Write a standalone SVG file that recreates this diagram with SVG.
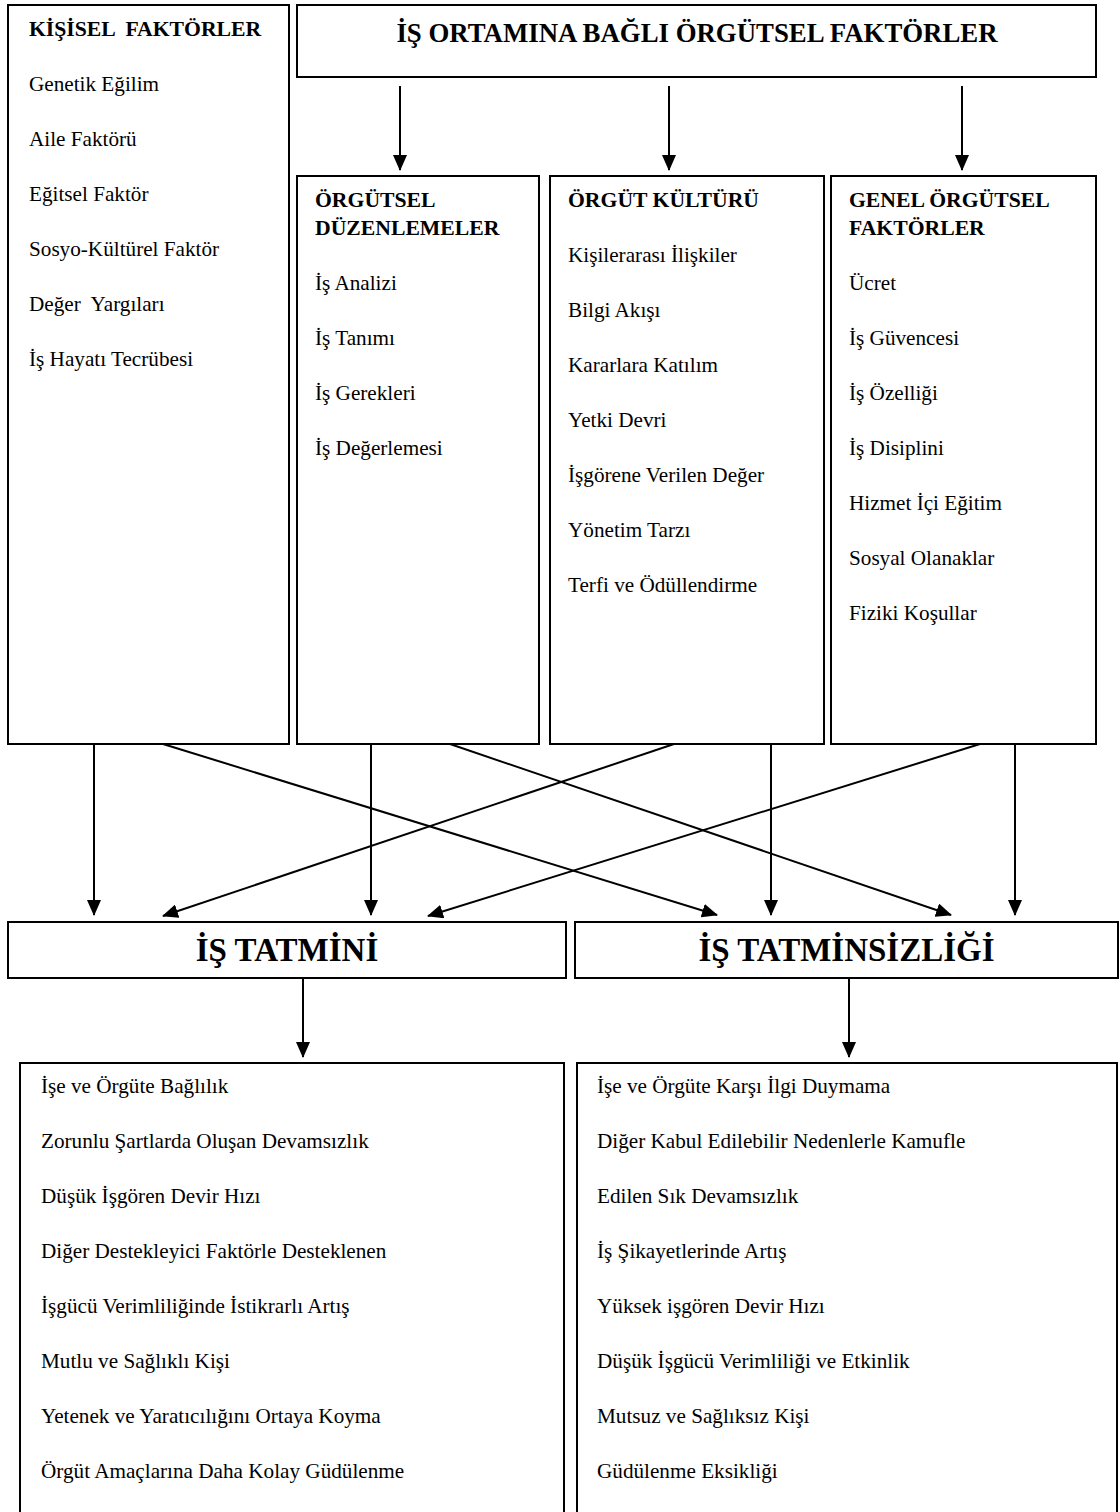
<svg xmlns="http://www.w3.org/2000/svg" width="1120" height="1512" viewBox="0 0 1120 1512">
<style>
.box{fill:#fff;stroke:#000;stroke-width:2}
.t{font-family:"Liberation Serif","Times New Roman",serif;font-size:21.2px;fill:#000;white-space:pre}
.h{font-family:"Liberation Serif","Times New Roman",serif;font-size:21.7px;font-weight:bold;fill:#000;white-space:pre}
.big{font-family:"Liberation Serif","Times New Roman",serif;font-size:26.8px;font-weight:bold;fill:#000;text-anchor:middle}
.res{font-family:"Liberation Serif","Times New Roman",serif;font-size:33px;font-weight:bold;fill:#000;text-anchor:middle}
.c{stroke:#000;stroke-width:2;fill:none;marker-end:url(#ah)}
</style>
<defs>
<marker id="ah" markerUnits="userSpaceOnUse" markerWidth="16" markerHeight="14" refX="15" refY="7" orient="auto">
<path d="M0,0 L16,7 L0,14 z" fill="#000"/>
</marker>
</defs>
<rect width="1120" height="1512" fill="#fff"/>

<g id="kisisel">
<rect class="box" x="8" y="5" width="281" height="739"/>
<text class="h" x="29" y="36">KİŞİSEL  FAKTÖRLER</text>
<text class="t" x="29" y="91">Genetik Eğilim</text>
<text class="t" x="29" y="146">Aile Faktörü</text>
<text class="t" x="29" y="201">Eğitsel Faktör</text>
<text class="t" x="29" y="256">Sosyo-Kültürel Faktör</text>
<text class="t" x="29" y="311">Değer  Yargıları</text>
<text class="t" x="29" y="366">İş Hayatı Tecrübesi</text>
</g>

<g id="is-ortami">
<rect class="box" x="297" y="5" width="799" height="72"/>
<text class="big" x="697" y="42">İŞ ORTAMINA BAĞLI ÖRGÜTSEL FAKTÖRLER</text>
</g>

<g id="orgutsel-duzenlemeler">
<rect class="box" x="297" y="176" width="242" height="568"/>
<text class="h" x="315" y="207">ÖRGÜTSEL</text>
<text class="h" x="315" y="235">DÜZENLEMELER</text>
<text class="t" x="315" y="290">İş Analizi</text>
<text class="t" x="315" y="345">İş Tanımı</text>
<text class="t" x="315" y="400">İş Gerekleri</text>
<text class="t" x="315" y="455">İş Değerlemesi</text>
</g>

<g id="orgut-kulturu">
<rect class="box" x="550" y="176" width="274" height="568"/>
<text class="h" x="568" y="207">ÖRGÜT KÜLTÜRÜ</text>
<text class="t" x="568" y="262">Kişilerarası İlişkiler</text>
<text class="t" x="568" y="317">Bilgi Akışı</text>
<text class="t" x="568" y="372">Kararlara Katılım</text>
<text class="t" x="568" y="427">Yetki Devri</text>
<text class="t" x="568" y="482">İşgörene Verilen Değer</text>
<text class="t" x="568" y="537">Yönetim Tarzı</text>
<text class="t" x="568" y="592">Terfi ve Ödüllendirme</text>
</g>

<g id="genel-orgutsel">
<rect class="box" x="831" y="176" width="265" height="568"/>
<text class="h" x="849" y="207">GENEL ÖRGÜTSEL</text>
<text class="h" x="849" y="235">FAKTÖRLER</text>
<text class="t" x="849" y="290">Ücret</text>
<text class="t" x="849" y="345">İş Güvencesi</text>
<text class="t" x="849" y="400">İş Özelliği</text>
<text class="t" x="849" y="455">İş Disiplini</text>
<text class="t" x="849" y="510">Hizmet İçi Eğitim</text>
<text class="t" x="849" y="565">Sosyal Olanaklar</text>
<text class="t" x="849" y="620">Fiziki Koşullar</text>
</g>

<g id="is-tatmini">
<rect class="box" x="8" y="922" width="558" height="56"/>
<text class="res" x="287" y="961">İŞ TATMİNİ</text>
</g>

<g id="is-tatminsizligi">
<rect class="box" x="575" y="922" width="543" height="56"/>
<text class="res" x="846.5" y="961">İŞ TATMİNSİZLİĞİ</text>
</g>

<g id="tatmin-sonuclari">
<rect class="box" x="20" y="1063" width="544" height="470"/>
<text class="t" x="41" y="1093">İşe ve Örgüte Bağlılık</text>
<text class="t" x="41" y="1148">Zorunlu Şartlarda Oluşan Devamsızlık</text>
<text class="t" x="41" y="1203">Düşük İşgören Devir Hızı</text>
<text class="t" x="41" y="1258">Diğer Destekleyici Faktörle Desteklenen</text>
<text class="t" x="41" y="1313">İşgücü Verimliliğinde İstikrarlı Artış</text>
<text class="t" x="41" y="1368">Mutlu ve Sağlıklı Kişi</text>
<text class="t" x="41" y="1423">Yetenek ve Yaratıcılığını Ortaya Koyma</text>
<text class="t" x="41" y="1478">Örgüt Amaçlarına Daha Kolay Güdülenme</text>
</g>

<g id="tatminsizlik-sonuclari">
<rect class="box" x="577" y="1063" width="540" height="470"/>
<text class="t" x="597" y="1093">İşe ve Örgüte Karşı İlgi Duymama</text>
<text class="t" x="597" y="1148">Diğer Kabul Edilebilir Nedenlerle Kamufle</text>
<text class="t" x="597" y="1203">Edilen Sık Devamsızlık</text>
<text class="t" x="597" y="1258">İş Şikayetlerinde Artış</text>
<text class="t" x="597" y="1313">Yüksek işgören Devir Hızı</text>
<text class="t" x="597" y="1368">Düşük İşgücü Verimliliği ve Etkinlik</text>
<text class="t" x="597" y="1423">Mutsuz ve Sağlıksız Kişi</text>
<text class="t" x="597" y="1478">Güdülenme Eksikliği</text>
</g>

<g id="connectors">
<line class="c" x1="400" y1="86" x2="400" y2="170"/>
<line class="c" x1="669" y1="86" x2="669" y2="170"/>
<line class="c" x1="962" y1="86" x2="962" y2="170"/>
<line class="c" x1="94" y1="744" x2="94" y2="915"/>
<line class="c" x1="163" y1="744" x2="717" y2="915"/>
<line class="c" x1="371" y1="744" x2="371" y2="915"/>
<line class="c" x1="450" y1="744" x2="951" y2="915"/>
<line class="c" x1="674" y1="744" x2="163" y2="916"/>
<line class="c" x1="771" y1="744" x2="771" y2="915"/>
<line class="c" x1="980" y1="744" x2="428" y2="916"/>
<line class="c" x1="1015" y1="744" x2="1015" y2="915"/>
<line class="c" x1="303" y1="978" x2="303" y2="1057"/>
<line class="c" x1="849" y1="978" x2="849" y2="1057"/>
</g>
</svg>
